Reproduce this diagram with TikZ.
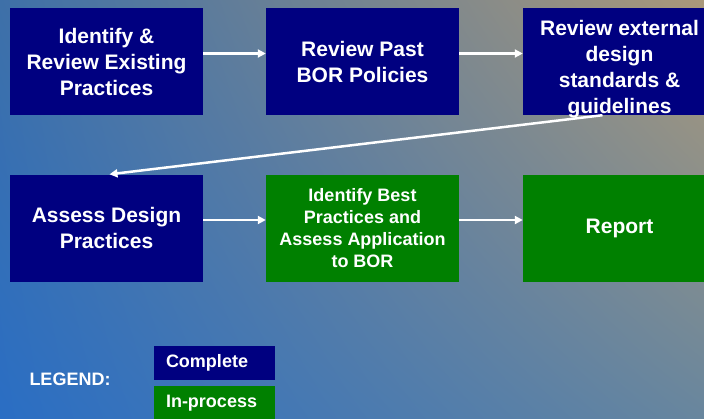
\documentclass[tikz,border=0pt]{standalone}
\usepackage{fontspec}
\setmainfont{Liberation Sans}
\usetikzlibrary{arrows.meta,shadings}
\definecolor{navybox}{RGB}{0,0,128}
\definecolor{greenbox}{RGB}{0,128,0}
\definecolor{bgul}{RGB}{62,112,168}
\definecolor{bgur}{RGB}{170,152,122}
\definecolor{bgll}{RGB}{42,110,196}
\definecolor{bglr}{RGB}{104,134,158}
\begin{document}
\begin{tikzpicture}[x=1pt,y=-1pt,
	box/.style={minimum width=193pt,minimum height=107pt,inner sep=0pt,text=white,align=center,font=\bfseries\fontsize{21}{26}\selectfont},
	done/.style={box,fill=navybox},
	doing/.style={box,fill=greenbox},
	pil/.style={white,line width=2.5pt,-{Triangle[length=8pt,width=8pt]}},
	key/.style={minimum height=34pt,text width=97pt,inner xsep=12pt,inner ysep=0pt,align=left,text=white,font=\bfseries\fontsize{18}{22}\selectfont}]
			% Nền
			\useasboundingbox (0,0) rectangle (704,418);
			\shade[upper left=bgul,upper right=bgur,lower left=bgll,lower right=bglr] (0,0) rectangle (704,418);
			% Các bước
			\node[done] (identify) at (106.5,61.5) {Identify \&\\Review Existing\\Practices};
			\node[done] (policies) at (362.5,61.5) {Review Past\\BOR Policies};
			\node[done] (external) at (619.5,61.5) {};
			\node[box] (externaltext) at ([yshift=-8pt]external.center) {Review external\\design\\standards \&\\guidelines};
			\node[done] (assess) at (106.5,228) {Assess Design\\Practices};
			\node[doing,font=\bfseries\fontsize{18}{22}\selectfont] (best) at (362.5,228) {Identify Best\\Practices and\\Assess Application\\to BOR};
			\node[doing] (report) at (619.5,228) {Report};
			% Mũi tên
			\draw[pil] ([yshift=8pt]identify.east) -- ([yshift=8pt]policies.west);
			\draw[pil] ([yshift=8pt]policies.east) -- ([yshift=8pt]external.west);
			\draw[pil] ([xshift=-17pt]external.south) -- ([xshift=3pt]assess.north);
			\draw[pil] ([yshift=8pt]assess.east) -- ([yshift=8pt]best.west);
			\draw[pil] ([yshift=8pt]best.east) -- ([yshift=8pt]report.west);
			% Chú thích
			\node[text=white,font=\bfseries\fontsize{18}{22}\selectfont] (legend) at (70,379) {LEGEND:};
			\node[key,fill=navybox] (complete) at (214.5,363) {Complete};
			\node[key,fill=greenbox] (inprocess) at (214.5,403) {In-process};
		\end{tikzpicture}
\end{document}
